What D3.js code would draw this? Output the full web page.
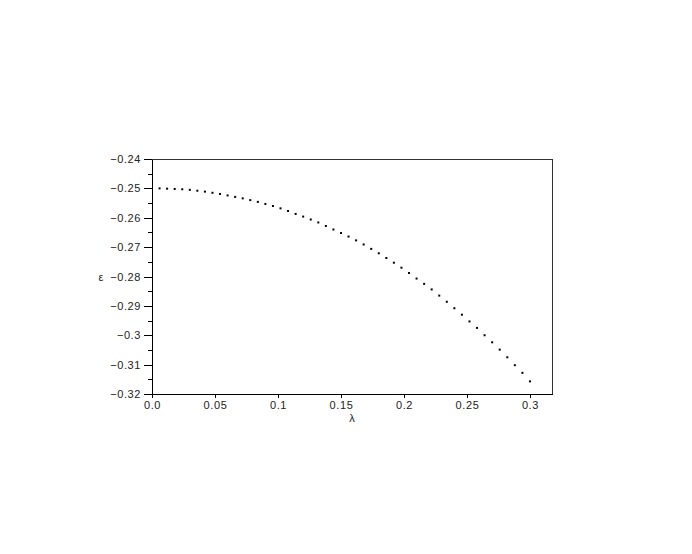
<!DOCTYPE html>
<html>
<head>
    <meta charset="utf-8">
    <script src="https://cdn.jsdelivr.net/npm/d3@7/dist/d3.min.js"></script>
    <style type="text/css">
        body {
            margin: 0;
            background-color: white; }

        .axis path,
        .axis line {
            fill: none;
            stroke: black;
            shape-rendering: crispEdges; }

        .axis text {
            font-family: "Liberation Sans", Arial, sans-serif;
            font-size: 11px;
            letter-spacing: 0.6px;
            fill: #222; }

        .frame {
            fill: none;
            stroke: #333;
            shape-rendering: crispEdges; }

        .dot {
            fill: black; }

        text.label {
            font-family: "Liberation Sans", Arial, sans-serif;
            font-size: 11px;
            fill: #222;
            text-anchor: middle; }
    </style>
</head>
<body>
    <div id="chart"></div>

    <script type="text/javascript">
        // lambda values of the points
        var lambda = [0.006, 0.012, 0.018, 0.024, 0.030, 0.036, 0.042, 0.048, 0.054, 0.060,
                      0.066, 0.072, 0.078, 0.084, 0.090, 0.096, 0.102, 0.108, 0.114, 0.120,
                      0.126, 0.132, 0.138, 0.144, 0.150, 0.156, 0.162, 0.168, 0.174, 0.180,
                      0.186, 0.192, 0.198, 0.204, 0.210, 0.216, 0.222, 0.228, 0.234, 0.240,
                      0.246, 0.252, 0.258, 0.264, 0.270, 0.276, 0.282, 0.288, 0.294, 0.300];

        // epsilon
        var epsilon = [-0.2500, -0.2501, -0.2502, -0.2503, -0.2505, -0.2508, -0.2511, -0.2515, -0.2519, -0.2524,
                       -0.2529, -0.2534, -0.2540, -0.2546, -0.2553, -0.2560, -0.2568, -0.2577, -0.2587, -0.2596,
                       -0.2606, -0.2616, -0.2628, -0.2640, -0.2652, -0.2664, -0.2677, -0.2691, -0.2706, -0.2721,
                       -0.2737, -0.2753, -0.2770, -0.2788, -0.2807, -0.2825, -0.2844, -0.2865, -0.2886, -0.2908,
                       -0.2930, -0.2953, -0.2975, -0.3000, -0.3024, -0.3049, -0.3075, -0.3102, -0.3128, -0.3157];

        var xTicks = [0, 0.05, 0.1, 0.15, 0.2, 0.25, 0.3];
        var xTickLabels = ["0.0", "0.05", "0.1", "0.15", "0.2", "0.25", "0.3"];
        var yTicks = [-0.24, -0.25, -0.26, -0.27, -0.28, -0.29, -0.3, -0.31, -0.32];
        var yTickLabels = ["\u22120.24", "\u22120.25", "\u22120.26", "\u22120.27", "\u22120.28",
                           "\u22120.29", "\u22120.3", "\u22120.31", "\u22120.32"];
        var yMinorTicks = [-0.245, -0.255, -0.265, -0.275, -0.285, -0.295, -0.305, -0.315];

        var margin = { top: 159, left: 152, bottom: 160, right: 140 };
        var width = 692 - margin.left - margin.right;
        var height = 554 - margin.top - margin.bottom;

        var svg = d3.select("#chart").append("svg")
            .attr("width", 692)
            .attr("height", 554)
            .append("g")
            .attr("transform", "translate(" + margin.left + ", " + margin.top + ")");

        var x = d3.scaleLinear()
            .domain([0, 0.3175])
            .range([0, width]);

        var y = d3.scaleLinear()
            .domain([-0.32, -0.24])
            .range([height, 0]);

        var data = lambda.map(function (d, i) {
            return { lambda: d, epsilon: epsilon[i] };
        });

        // frame
        svg.append("rect")
            .attr("class", "frame")
            .attr("x", 0)
            .attr("y", 0)
            .attr("width", width)
            .attr("height", height);

        // minor ticks on the y axis
        svg.append("g")
            .attr("class", "axis")
            .call(d3.axisLeft(y)
                .tickValues(yMinorTicks)
                .tickSize(4)
                .tickFormat(""))
            .select(".domain").remove();

        var yAxis = d3.axisLeft(y)
            .tickValues(yTicks)
            .tickSize(8)
            .tickSizeOuter(0)
            .tickPadding(3)
            .tickFormat(function (d, i) { return yTickLabels[i]; });

        svg.append("g")
            .attr("class", "axis")
            .call(yAxis);

        var xAxis = d3.axisBottom(x)
            .tickValues(xTicks)
            .tickSize(4)
            .tickSizeOuter(0)
            .tickPadding(3)
            .tickFormat(function (d, i) { return xTickLabels[i]; });

        svg.append("g")
            .attr("class", "axis")
            .attr("transform", "translate(0," + height + ")")
            .call(xAxis);

        // points
        svg.selectAll(".dot")
            .data(data)
            .enter().append("rect")
            .attr("class", "dot")
            .attr("x", function (d) { return x(d.lambda) - 1; })
            .attr("y", function (d) { return y(d.epsilon) - 1; })
            .attr("width", 2)
            .attr("height", 2);

        // axis labels
        svg.append("text")
            .attr("class", "label")
            .attr("x", width / 2)
            .attr("y", height + 28)
            .text("\u03bb");

        svg.append("text")
            .attr("class", "label")
            .attr("x", -51)
            .attr("y", y(-0.28) + 4)
            .text("\u03b5");
    </script>
</body>
</html>
